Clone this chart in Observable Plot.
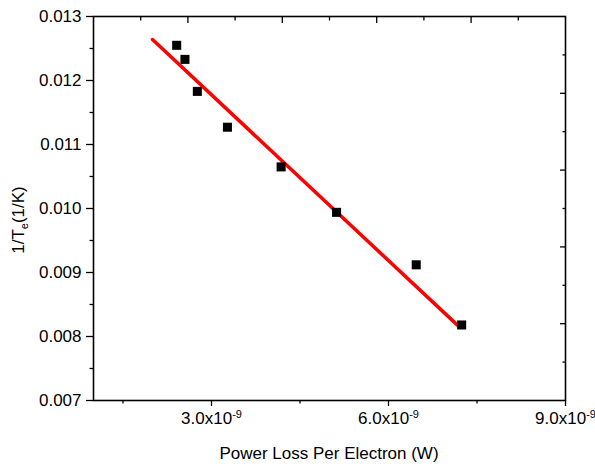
<!DOCTYPE html>
<html><head><meta charset="utf-8">
<script src="https://cdn.jsdelivr.net/npm/d3@7"></script>
<script src="https://cdn.jsdelivr.net/npm/@observablehq/plot@0.6"></script>
<style>body{margin:0;background:#fff}</style>
</head><body><div id="chart"></div>
<script>
// Measured data (Power loss per electron in W, 1/Te in 1/K)
const powerLoss = [2.41e-9, 2.55e-9, 2.76e-9, 3.27e-9, 4.18e-9, 5.12e-9, 6.47e-9, 7.24e-9];
const invTe = [0.01255, 0.01233, 0.01183, 0.01127, 0.01065, 0.00994, 0.00912, 0.00818];
// Linear fit end points
const fitPower = [2.0e-9, 7.2e-9];
const fitInvTe = [0.01264, 0.00815];
// Axis ticks
const xMajorTicks = [3e-9, 6e-9, 9e-9];
const xMinorTicks = [1.5e-9, 4.5e-9, 7.5e-9];
const xTickLabels = ["3.0x10", "6.0x10", "9.0x10"];
const xTickExponent = "-9";
const yMajorTicks = [0.007, 0.008, 0.009, 0.010, 0.011, 0.012, 0.013];
const yMinorTicks = [0.0075, 0.0085, 0.0095, 0.0105, 0.0115, 0.0125];
const topMajorTicks = [2.6e-9, 4.2e-9, 5.8e-9, 7.4e-9];
const topMinorTicks = [1.8e-9, 3.4e-9, 5.0e-9, 6.6e-9, 8.2e-9];
const rightMajorTicks = [0.0082, 0.0094, 0.0106, 0.0118];
const rightMinorTicks = [0.0076, 0.0088, 0.0100, 0.0112, 0.0124];
const xTitle = "Power Loss Per Electron (W)";
const yTitleParts = ["1/T", "e", "(1/K)"];

const points = powerLoss.map((x, i) => ({x, y: invTe[i]}));
const fit = fitPower.map((x, i) => ({x, y: fitInvTe[i]}));
const fmtX = d => {
  const i = xMajorTicks.findIndex(t => Math.abs(t - d) < 1e-12);
  return i >= 0 ? xTickLabels[i] : "";
};
const none = () => "";

const chart = Plot.plot({
  width: 595, height: 467,
  marginLeft: 93, marginRight: 30, marginTop: 16, marginBottom: 67,
  style: {fontFamily: "'Liberation Sans', Arial, sans-serif", fontSize: "17px", color: "#000", background: "#fff", overflow: "visible"},
  x: {domain: [1e-9, 9e-9]},
  y: {domain: [0.007, 0.013]},
  marks: [
    Plot.line(fit, {x: "x", y: "y", stroke: "#ff0000", strokeWidth: 3.5}),
    Plot.dot(points, {x: "x", y: "y", symbol: "square", fill: "#000", r: 5.1}),
    Plot.axisX(xMajorTicks, {anchor: "bottom", tickSize: 6, tickPadding: 5, tickFormat: fmtX, label: null, strokeWidth: 1.3}),
    Plot.axisX(xMinorTicks, {anchor: "bottom", tickSize: 3.5, tickFormat: none, label: null, strokeWidth: 1.3}),
    Plot.axisY(yMajorTicks, {anchor: "left", tickSize: 7, tickPadding: 5, tickFormat: d3.format(".3f"), label: null, strokeWidth: 1.3}),
    Plot.axisY(yMinorTicks, {anchor: "left", tickSize: 3.5, tickFormat: none, label: null, strokeWidth: 1.3}),
    Plot.axisX(topMajorTicks, {anchor: "top", tickSize: 6, dy: 6, tickFormat: none, label: null, strokeWidth: 1.3}),
    Plot.axisX(topMinorTicks, {anchor: "top", tickSize: 3.5, dy: 3.5, tickFormat: none, label: null, strokeWidth: 1.3}),
    Plot.axisY(rightMajorTicks, {anchor: "right", tickSize: 6, dx: -6, tickFormat: none, label: null, strokeWidth: 1.3}),
    Plot.axisY(rightMinorTicks, {anchor: "right", tickSize: 3.5, dx: -3.5, tickFormat: none, label: null, strokeWidth: 1.3}),
    Plot.frame({stroke: "#000", strokeWidth: 1.6})
  ]
});

const svg = d3.select(chart);
// superscript exponents on x tick labels
svg.selectAll('g[aria-label="x-axis tick label"] text').each(function() {
  const t = this.textContent;
  if (!t) return;
  const sel = d3.select(this);
  sel.text(t);
  sel.append("tspan").attr("dy", -6).attr("font-size", "11px").text(xTickExponent);
});
// axis titles
svg.append("text")
  .attr("x", 329).attr("y", 459)
  .attr("text-anchor", "middle").attr("fill", "#000")
  .attr("font-size", "17px")
  .text(xTitle);
const yt = svg.append("text")
  .attr("transform", "translate(24,220) rotate(-90)")
  .attr("text-anchor", "middle").attr("fill", "#000")
  .attr("font-size", "17px");
yt.append("tspan").text(yTitleParts[0]);
yt.append("tspan").attr("dy", 4).attr("font-size", "11px").text(yTitleParts[1]);
yt.append("tspan").attr("dy", -4).text(yTitleParts[2]);

document.getElementById("chart").appendChild(chart);
</script>
</body></html>
